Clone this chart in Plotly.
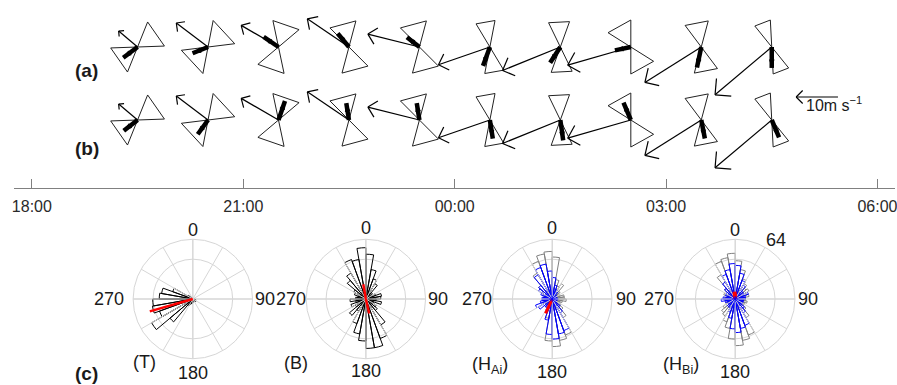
import math
import plotly.graph_objects as go

W, H = 897, 385

# ----------------------------- data -----------------------------
glyph_hour = [19.5, 20.5, 21.5, 22.5, 23.5, 24.5, 25.5, 26.5, 27.5, 28.5]
# wind vectors: angle (deg, counter-clockwise from east) and speed (m/s)
wind_angle = [140, 143, 150, 146, 166, 199, 202, 196, 212, 220]
wind_speed = [5.9, 9.5, 10.3, 12.0, 12.7, 13.0, 14.9, 15.7, 15.9, 17.7]
# bow-tie orientation (deg) and half opening (deg)
bow_axis = [35, 43, 71, 105, 105, 100, 93, 119, 101, 111]
bow_half = [33, 36, 31, 30, 30, 21, 23, 29, 26, 18]
# thick vectors for rows (a) and (b)
thick_a_angle = [217, 202, 146, 130, 142, 250, 237, 192, 258, 270]
thick_a_mag = [5.0, 4.7, 5.0, 4.9, 4.5, 5.5, 5.2, 4.6, 5.7, 5.7]
thick_b_angle = [218, 234, 71, 99, 99, 279, 278, 113, 281, 293]
thick_b_mag = [4.9, 4.9, 5.5, 4.8, 4.8, 5.2, 5.6, 5.2, 5.2, 5.2]
scale_speed = 10
scale_hour = 29.44

time_tick_hours = [18, 21, 24, 27, 30]
time_tick_labels = ["18:00", "21:00", "00:00", "03:00", "06:00"]

rose_theta = [5 + 10 * k for k in range(36)]
rose_T = [0, 0, 0, 0, 0, 0, 0, 0, 0, 2, 3, 3, 4, 3, 3, 3, 3, 3,
          4, 5, 6, 9, 32, 51, 38, 44, 43, 36, 34, 23, 6, 2, 0, 0, 0, 0]
rose_B = [48, 32, 23, 19, 9, 6, 11, 17, 16, 11, 17, 9, 13, 16, 32, 45, 53, 53,
          45, 38, 28, 15, 23, 13, 17, 11, 17, 11, 9, 13, 15, 26, 32, 45, 43, 55]
rose_HA_all = [45, 21, 15, 19, 11, 9, 9, 13, 13, 15, 11, 9, 11, 15, 23, 41, 45, 51,
               45, 21, 15, 11, 9, 9, 11, 9, 9, 9, 9, 11, 13, 19, 32, 43, 49, 51]
rose_HA_sub = [23, 15, 11, 9, 6, 5, 5, 5, 6, 6, 5, 5, 6, 11, 17, 36, 38, 43,
               38, 23, 13, 11, 11, 17, 19, 13, 11, 11, 9, 13, 17, 19, 30, 36, 38, 30]
rose_HB_all = [41, 32, 23, 19, 15, 17, 13, 15, 11, 11, 13, 11, 11, 15, 23, 41, 45, 50,
               43, 32, 26, 21, 19, 15, 11, 9, 11, 11, 9, 13, 11, 15, 30, 43, 45, 49]
rose_HB_sub = [36, 28, 21, 17, 11, 11, 15, 11, 11, 9, 9, 9, 9, 13, 17, 30, 32, 36,
               32, 21, 15, 11, 11, 9, 9, 11, 15, 13, 9, 11, 11, 15, 21, 28, 32, 38]
mean_T = ([0, 48], [254, 254])
mean_B = ([16, 0, 16], [350, 0, 167])
mean_HA = ([0, 17], [205, 205])
mean_HB = ([0, 8], [355, 355])
rose_rmax = 64
spoke_angles = [0, 30, 60, 90, 120, 150, 180, 210, 240, 270, 300, 330]
compass_labels = ["0", "90", "180", "270"]

# ----------------------------- styles -----------------------------
FONT = "Liberation Sans, Arial, sans-serif"
TXT = "#1a1a1a"
GRID = "#d6d6d6"
PXH = 70.78          # pixels per hour on the time axis
PX_MS = 4.2          # pixels per m/s
BOW_LEN = 27         # px
ROW_A, ROW_B = 47, 120
AXIS_Y = 188
X0_PX = 12
t_start = 18 - (30 - X0_PX) / PXH
t_end = t_start + (W - X0_PX) / PXH


def pt(hour, row, dx, dy):
    """pixel offsets (dy upward) -> data coordinates"""
    return hour + dx / PXH, row - dy


def polar_off(ang, length):
    a = math.radians(ang)
    return length * math.cos(a), length * math.sin(a)


fig = go.Figure()

thin_x, thin_y = [], []
bow_x, bow_y = [], []


def add_wind(hour, row, ang, spd):
    L = spd * PX_MS
    ex, ey = polar_off(ang, L)
    for px, py in [(0, 0), (ex, ey)]:
        x, y = pt(hour, row, px, py)
        thin_x.append(x); thin_y.append(y)
    thin_x.append(None); thin_y.append(None)
    b = 0.22 * L
    for s in (45, -45):
        bx, by = polar_off(ang + 180 + s, b)
        for px, py in [(ex, ey), (ex + bx, ey + by)]:
            x, y = pt(hour, row, px, py)
            thin_x.append(x); thin_y.append(y)
        thin_x.append(None); thin_y.append(None)


for row in (ROW_A, ROW_B):
    for i, h in enumerate(glyph_hour):
        add_wind(h, row, wind_angle[i], wind_speed[i])
        for base in (bow_axis[i], bow_axis[i] + 180):
            v1 = polar_off(base + bow_half[i], BOW_LEN)
            v2 = polar_off(base - bow_half[i], BOW_LEN)
            for px, py in [(0, 0), v1, v2, (0, 0)]:
                x, y = pt(h, row, px, py)
                bow_x.append(x); bow_y.append(y)
            bow_x.append(None); bow_y.append(None)

add_wind(scale_hour, 97, 180, scale_speed)

fig.add_trace(go.Scatter(x=bow_x, y=bow_y, mode="lines",
                         line=dict(color="#222", width=1), hoverinfo="skip",
                         showlegend=False))
fig.add_trace(go.Scatter(x=thin_x, y=thin_y, mode="lines",
                         line=dict(color="black", width=1.2), hoverinfo="skip",
                         showlegend=False))

for row, angs, mags in ((ROW_A, thick_a_angle, thick_a_mag),
                        (ROW_B, thick_b_angle, thick_b_mag)):
    sx, sy, mx, my, mang = [], [], [], [], []
    for i, h in enumerate(glyph_hour):
        L = mags[i] * PX_MS
        ex, ey = polar_off(angs[i], L - 3)
        for px, py in [(0, 0), (ex, ey)]:
            x, y = pt(h, row, px, py)
            sx.append(x); sy.append(y)
        sx.append(None); sy.append(None)
        x, y = pt(h, row, ex, ey)
        mx.append(x); my.append(y); mang.append(90 - angs[i])
    fig.add_trace(go.Scatter(x=sx, y=sy, mode="lines",
                             line=dict(color="black", width=4.5), hoverinfo="skip",
                             showlegend=False))
    fig.add_trace(go.Scatter(x=mx, y=my, mode="markers",
                             marker=dict(symbol="arrow", size=9, angle=mang,
                                         color="black", line=dict(width=0)),
                             hoverinfo="skip", showlegend=False))

# ----------------------------- roses -----------------------------
R = 60
CY = 299
centers = [191.7, 365.5, 552.7, 736.5]
label_270_x = [107.5, 290, 476.7, 660]
label_90_x = [264, 438, 626.7, 810]
label_0_y = [230, 228, 228, 230]
label_180_y = [373, 371, 371.5, 371.5]


def polar_layout(cx):
    return dict(
        domain=dict(x=[(cx - R) / W, (cx + R) / W],
                    y=[(H - CY - R) / H, (H - CY + R) / H]),
        bgcolor="rgba(0,0,0,0)",
        barmode="overlay",
        radialaxis=dict(range=[0, rose_rmax], tickvals=[rose_rmax * 2 / 3, rose_rmax],
                        showticklabels=False, ticks="", showline=False,
                        gridcolor=GRID, gridwidth=1),
        angularaxis=dict(rotation=90, direction="clockwise",
                         tickmode="array", tickvals=[0, 90, 180, 270],
                         showticklabels=False, ticks="", showline=True,
                         linecolor=GRID, gridcolor=GRID),
    )


def spokes(sub):
    r, th = [], []
    for a in spoke_angles:
        r += [0, rose_rmax, None]
        th += [a, a, None]
    return go.Scatterpolar(r=r, theta=th, mode="lines",
                           line=dict(color=GRID, width=1), subplot=sub,
                           hoverinfo="skip", showlegend=False)


def rose(vals, color, sub):
    return go.Barpolar(r=vals, theta=rose_theta, width=[10] * len(rose_theta),
                       marker=dict(color="rgba(255,255,255,0)",
                                   line=dict(color=color, width=1)),
                       subplot=sub, hoverinfo="skip", showlegend=False)


def mean_line(m, sub, w):
    return go.Scatterpolar(r=m[0], theta=m[1], mode="lines",
                           line=dict(color="#ff0000", width=w), subplot=sub,
                           hoverinfo="skip", showlegend=False)


for sub in ("polar", "polar2", "polar3", "polar4"):
    fig.add_trace(spokes(sub))

fig.add_trace(rose(rose_T, "black", "polar"))
fig.add_trace(mean_line(mean_T, "polar", 2.5))
fig.add_trace(rose(rose_B, "black", "polar2"))
fig.add_trace(mean_line(mean_B, "polar2", 2.5))
fig.add_trace(rose(rose_HA_all, "#808080", "polar3"))
fig.add_trace(rose(rose_HA_sub, "#0000ff", "polar3"))
fig.add_trace(mean_line(mean_HA, "polar3", 3))
fig.add_trace(rose(rose_HB_all, "#808080", "polar4"))
fig.add_trace(rose(rose_HB_sub, "#0000ff", "polar4"))
fig.add_trace(mean_line(mean_HB, "polar4", 4))
for sub in ("polar3", "polar4"):
    fig.add_trace(go.Scatterpolar(r=[0], theta=[0], mode="markers",
                                  marker=dict(color="#0000ff", size=5, symbol="asterisk",
                                              line=dict(color="#0000ff", width=1)),
                                  subplot=sub, hoverinfo="skip", showlegend=False))

# ----------------------------- annotations -----------------------------
def ann(text, x, y, size, bold=False, xanchor="center", color=TXT):
    return dict(text=f"<b>{text}</b>" if bold else text, x=x / W, y=1 - y / H,
                xref="paper", yref="paper", showarrow=False, xanchor=xanchor,
                yanchor="middle", font=dict(size=size, color=color, family=FONT))


annotations = [
    ann("(a)", 85, 70, 19, True),
    ann("(b)", 85, 148, 19, True),
    ann("(c)", 85, 373, 19, True),
    ann("(T)", 143.5, 362, 18),
    ann("(B)", 295, 363, 18),
    ann("(H<sub>Ai</sub>)", 490, 365, 18),
    ann("(H<sub>Bi</sub>)", 682, 365, 18),
    ann("64", 777, 240, 18),
    ann("10m s<sup>\u22121</sup>", 806, 104, 16, xanchor="left"),
]
for i, cx in enumerate(centers):
    annotations += [
        ann(compass_labels[0], cx, label_0_y[i], 18),
        ann(compass_labels[1], label_90_x[i], CY, 18),
        ann(compass_labels[2], cx, label_180_y[i], 18),
        ann(compass_labels[3], label_270_x[i], CY, 18),
    ]

fig.update_layout(
    width=W, height=H,
    margin=dict(l=0, r=0, t=0, b=0),
    paper_bgcolor="white", plot_bgcolor="white",
    font=dict(family=FONT, color=TXT),
    xaxis=dict(domain=[X0_PX / W, 1], range=[t_start, t_end], anchor="free",
               position=(H - AXIS_Y) / H, showline=True, linecolor="#808080",
               linewidth=1, ticks="inside", ticklen=9, tickcolor="#808080",
               tickwidth=1, tickmode="array", tickvals=time_tick_hours,
               ticktext=time_tick_labels, ticklabelstandoff=4,
               ticklabeloverflow="allow",
               tickfont=dict(size=16, color="#2a2a2a", family=FONT),
               showgrid=False, zeroline=False),
    yaxis=dict(domain=[0, 1], range=[H, 0], visible=False),
    polar=polar_layout(centers[0]),
    polar2=polar_layout(centers[1]),
    polar3=polar_layout(centers[2]),
    polar4=polar_layout(centers[3]),
    annotations=annotations,
)

fig.write_html(
    "out.html",
    config={"displayModeBar": False},
    post_script="document.body.style.margin='0';document.body.style.overflow='hidden';",
)
